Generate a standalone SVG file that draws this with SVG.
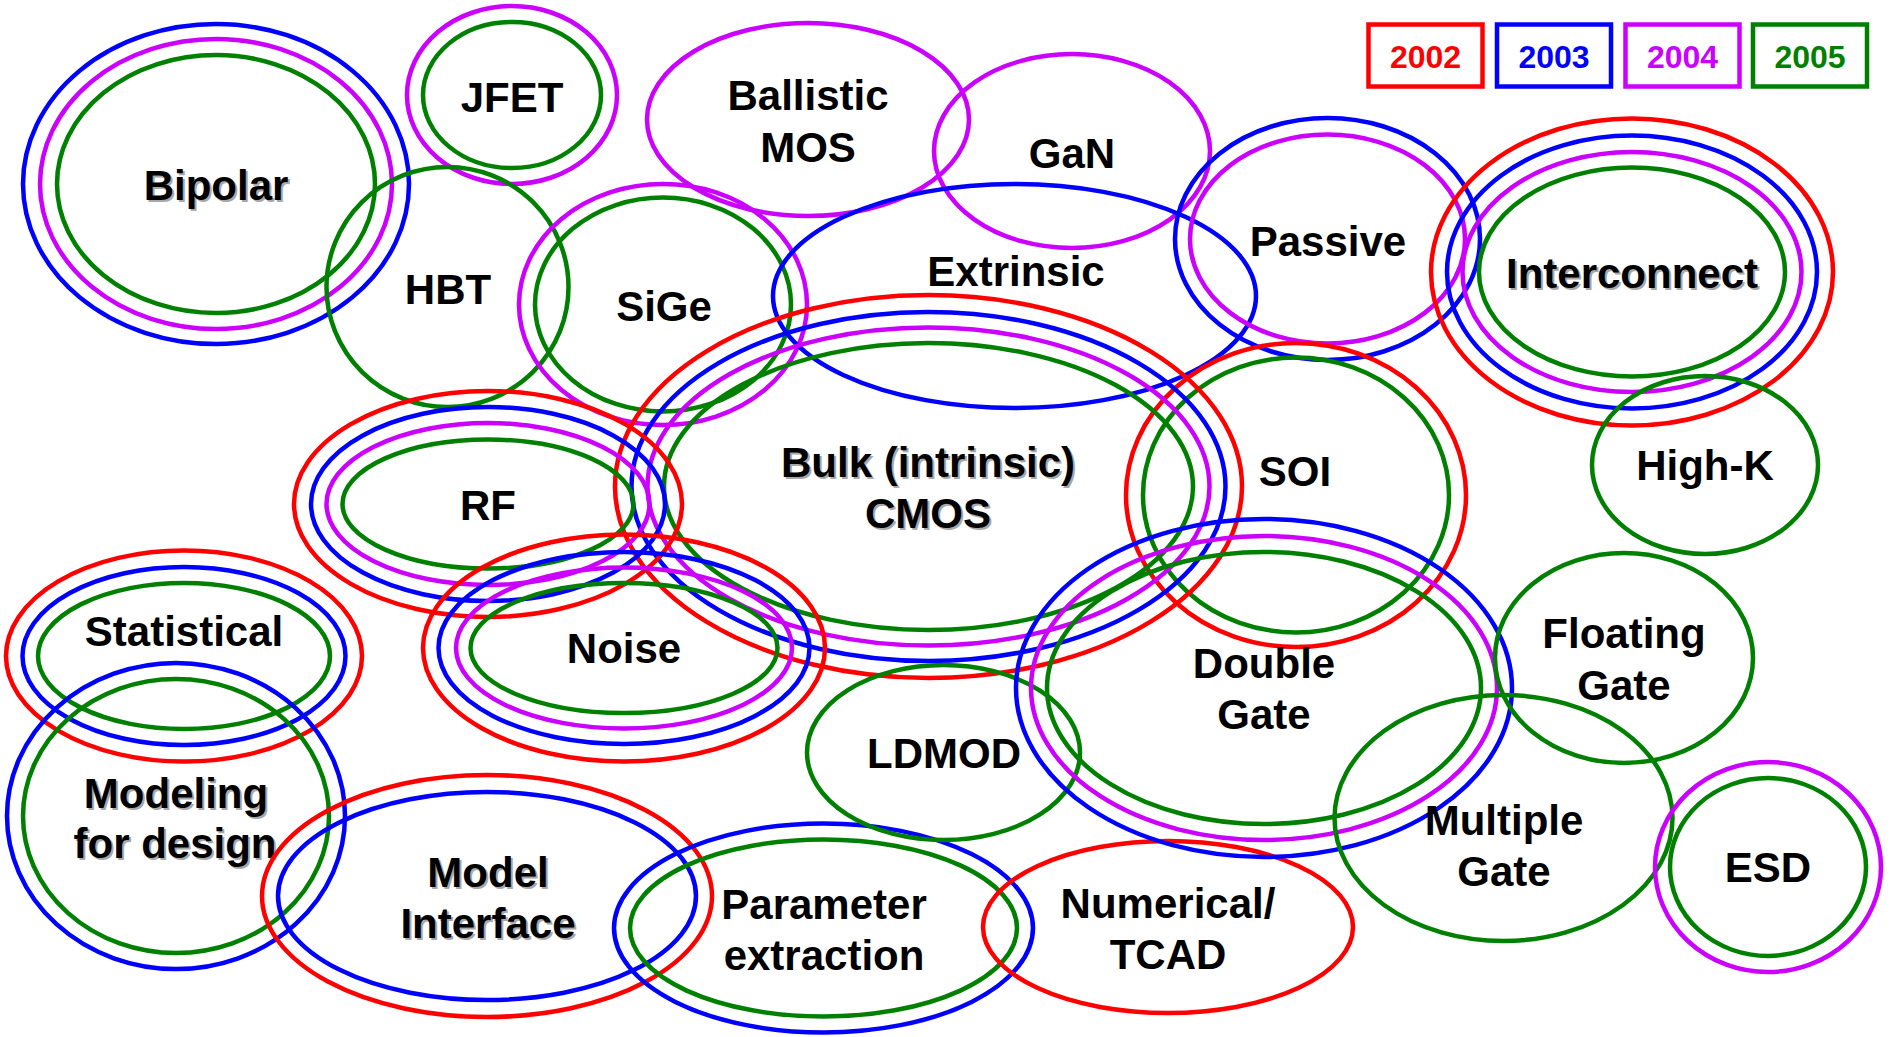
<svg xmlns="http://www.w3.org/2000/svg" width="1894" height="1037" viewBox="0 0 1894 1037">
<style>
ellipse, rect.lg { fill: none; stroke-width: 4.5; }
.r { stroke: #FF0000; }
.b { stroke: #0000FF; }
.m { stroke: #CC00FF; }
.g { stroke: #008000; }
text { font-family: "Liberation Sans", Arial, Helvetica, sans-serif; font-weight: bold; font-size: 42px; text-anchor: middle; fill: #000; }
text.sh { fill: #A8A8A8; }
text.lt { font-size: 32px; }
</style>
<rect x="0" y="0" width="1894" height="1037" fill="#FFFFFF"/>

<g id="legend">
  <rect class="lg r" x="1368.5" y="24.5" width="114" height="62"/>
  <rect class="lg b" x="1497" y="24.5" width="114" height="62"/>
  <rect class="lg m" x="1625.5" y="24.5" width="114" height="62"/>
  <rect class="lg g" x="1753" y="24.5" width="114" height="62"/>
  <text class="lt" x="1425.5" y="68" fill="#FF0000" style="fill:#FF0000">2002</text>
  <text class="lt" x="1554" y="68" style="fill:#0000FF">2003</text>
  <text class="lt" x="1682.5" y="68" style="fill:#CC00FF">2004</text>
  <text class="lt" x="1810" y="68" style="fill:#008000">2005</text>
</g>

<g id="bipolar">
  <ellipse class="b" cx="216" cy="184" rx="193" ry="160"/>
  <ellipse class="m" cx="216" cy="184" rx="176" ry="145"/>
  <ellipse class="g" cx="216" cy="184" rx="159" ry="129"/>
  <text class="sh" x="218" y="202">Bipolar</text>
  <text x="216" y="200">Bipolar</text>
</g>

<g id="jfet">
  <ellipse class="m" cx="512" cy="95" rx="105" ry="89"/>
  <ellipse class="g" cx="512" cy="95" rx="89" ry="73"/>
  <text x="512" y="112">JFET</text>
</g>

<g id="hbt">
  <ellipse class="g" cx="447.5" cy="287" rx="121" ry="120"/>
  <text x="448" y="304">HBT</text>
</g>

<g id="sige">
  <ellipse class="m" cx="663" cy="304.5" rx="144" ry="120.5"/>
  <ellipse class="g" cx="663" cy="304.5" rx="128" ry="107"/>
  <text x="664" y="321">SiGe</text>
</g>

<g id="ballistic-mos">
  <ellipse class="m" cx="808" cy="119.5" rx="161" ry="96.5"/>
  <text x="808" y="110">Ballistic</text>
  <text x="808" y="162">MOS</text>
</g>

<g id="gan">
  <ellipse class="m" cx="1072" cy="151" rx="138" ry="97"/>
  <text x="1072" y="168">GaN</text>
</g>

<g id="extrinsic">
  <ellipse class="b" cx="1014.5" cy="296" rx="241.5" ry="112"/>
  <text x="1016" y="286">Extrinsic</text>
</g>

<g id="passive">
  <ellipse class="b" cx="1327.5" cy="239" rx="152.5" ry="121"/>
  <ellipse class="m" cx="1327.5" cy="239" rx="137.5" ry="104.5"/>
  <text x="1328" y="256">Passive</text>
</g>

<g id="interconnect">
  <ellipse class="r" cx="1632" cy="272" rx="201" ry="153.5"/>
  <ellipse class="b" cx="1632" cy="272" rx="185" ry="136.5"/>
  <ellipse class="m" cx="1632" cy="272" rx="169.5" ry="120"/>
  <ellipse class="g" cx="1632" cy="272" rx="153" ry="104.5"/>
  <text class="sh" x="1634" y="290">Interconnect</text>
  <text x="1632" y="288">Interconnect</text>
</g>

<g id="high-k">
  <ellipse class="g" cx="1705" cy="465" rx="113" ry="89"/>
  <text x="1705" y="480">High-K</text>
</g>

<g id="soi">
  <ellipse class="r" cx="1296" cy="495" rx="170" ry="152"/>
  <ellipse class="g" cx="1296" cy="495" rx="153" ry="137.5"/>
  <text x="1295" y="486">SOI</text>
</g>

<g id="bulk-cmos">
  <ellipse class="r" cx="928.5" cy="486.5" rx="313.5" ry="191.5"/>
  <ellipse class="b" cx="928.5" cy="486.5" rx="297" ry="174.5"/>
  <ellipse class="m" cx="928.5" cy="486.5" rx="281" ry="159"/>
  <ellipse class="g" cx="928.5" cy="486.5" rx="264.5" ry="143.5"/>
  <text class="sh" x="930" y="479">Bulk (intrinsic)</text>
  <text x="928" y="477">Bulk (intrinsic)</text>
  <text class="sh" x="930" y="530">CMOS</text>
  <text x="928" y="528">CMOS</text>
</g>

<g id="rf">
  <ellipse class="r" cx="488" cy="504" rx="194" ry="113"/>
  <ellipse class="b" cx="488" cy="504" rx="177" ry="97"/>
  <ellipse class="m" cx="488" cy="504" rx="161.5" ry="81"/>
  <ellipse class="g" cx="488" cy="504" rx="145.5" ry="64.5"/>
  <text x="488" y="520">RF</text>
</g>

<g id="noise">
  <ellipse class="r" cx="624" cy="648" rx="201" ry="113.5"/>
  <ellipse class="b" cx="624" cy="648" rx="185.5" ry="96"/>
  <ellipse class="m" cx="624" cy="648" rx="168" ry="80.5"/>
  <ellipse class="g" cx="624" cy="648" rx="153.5" ry="65"/>
  <text x="624" y="663">Noise</text>
</g>

<g id="statistical">
  <ellipse class="r" cx="184" cy="656" rx="178" ry="105.5"/>
  <ellipse class="b" cx="184" cy="656" rx="161.5" ry="89"/>
  <ellipse class="g" cx="184" cy="656" rx="146" ry="73"/>
  <text x="184" y="646">Statistical</text>
</g>

<g id="modeling-for-design">
  <ellipse class="b" cx="176" cy="816" rx="169" ry="153"/>
  <ellipse class="g" cx="176" cy="816" rx="153" ry="137"/>
  <text class="sh" x="178" y="810">Modeling</text>
  <text x="176" y="808">Modeling</text>
  <text class="sh" x="177" y="860">for design</text>
  <text x="175" y="858">for design</text>
</g>

<g id="model-interface">
  <ellipse class="r" cx="487" cy="896" rx="225" ry="121"/>
  <ellipse class="b" cx="487" cy="896" rx="209" ry="104"/>
  <text class="sh" x="490" y="889">Model</text>
  <text x="488" y="887">Model</text>
  <text class="sh" x="490" y="940">Interface</text>
  <text x="488" y="938">Interface</text>
</g>

<g id="parameter-extraction">
  <ellipse class="b" cx="823.5" cy="928" rx="209.5" ry="104.5"/>
  <ellipse class="g" cx="823.5" cy="928" rx="193.5" ry="88.5"/>
  <text x="824" y="919">Parameter</text>
  <text x="824" y="970">extraction</text>
</g>

<g id="ldmod">
  <ellipse class="g" cx="943.5" cy="752.5" rx="136.5" ry="87.5"/>
  <text x="944" y="768">LDMOD</text>
</g>

<g id="numerical-tcad">
  <ellipse class="r" cx="1168" cy="927" rx="185" ry="86"/>
  <text x="1168" y="918">Numerical/</text>
  <text x="1168" y="969">TCAD</text>
</g>

<g id="double-gate">
  <ellipse class="b" cx="1264" cy="688" rx="248" ry="169"/>
  <ellipse class="m" cx="1264" cy="688" rx="233" ry="152"/>
  <ellipse class="g" cx="1264" cy="688" rx="217" ry="136"/>
  <text x="1264" y="678">Double</text>
  <text x="1264" y="729">Gate</text>
</g>

<g id="floating-gate">
  <ellipse class="g" cx="1624" cy="658" rx="129" ry="105"/>
  <text x="1624" y="648">Floating</text>
  <text x="1624" y="700">Gate</text>
</g>

<g id="multiple-gate">
  <ellipse class="g" cx="1503.5" cy="818" rx="169" ry="123"/>
  <text x="1504" y="835">Multiple</text>
  <text x="1504" y="886">Gate</text>
</g>

<g id="esd">
  <ellipse class="m" cx="1768" cy="867" rx="113" ry="105"/>
  <ellipse class="g" cx="1768" cy="867" rx="98" ry="89"/>
  <text x="1768" y="882">ESD</text>
</g>

<g id="connectors"></g>
</svg>
